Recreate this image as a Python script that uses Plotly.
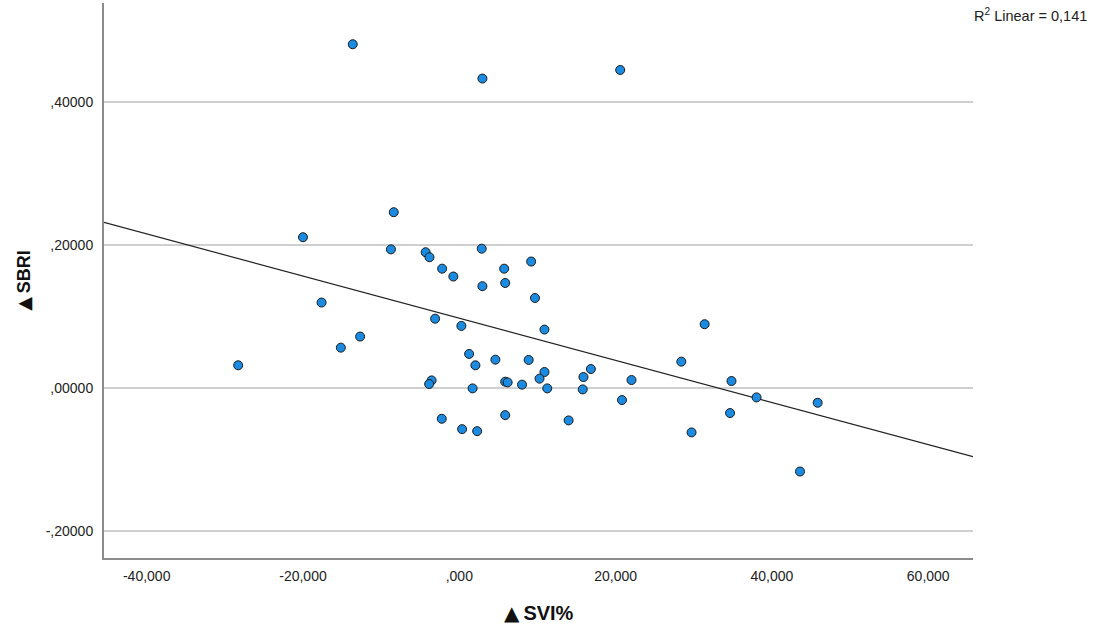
import numpy as np
import plotly.graph_objects as go

# ΔSVI% values (x) and ΔSBRI values (y)
svi = [
    -13632, 2960, -8386, -20000, -8744, 2870, -4305, -3811, -2197, -762,
    5740, 5874, 2960, 9193, 9686, -17622, 20588,
    -3094, 269, 10896, -12690, -15156, -28294, 1256, 2063, 4619, 8878,
    10896, 10268, -3542, -3856, 1704, 5874, 6188, 8026, 11255, -2242,
    5874, 359, 2287,
    31391, 28408, 16837, 15888, 15797, 22035, 20815, 13989, 34827, 34646,
    29719, 38036, 45855, 43595,
]
sbri = [
    0.481, 0.433, 0.246, 0.211, 0.194, 0.195, 0.190, 0.183, 0.167, 0.156,
    0.167, 0.147, 0.1425, 0.177, 0.126, 0.1196, 0.445,
    0.097, 0.0869, 0.0818, 0.072, 0.0565, 0.0318, 0.0477, 0.0318, 0.0397, 0.0393,
    0.0224, 0.0131, 0.0107, 0.0056, -0.0005, 0.0089, 0.0079, 0.0047, -0.0005, -0.043,
    -0.0379, -0.0575, -0.0603,
    0.0893, 0.0369, 0.0266, 0.0154, -0.0019, 0.0112, -0.0168, -0.0453, 0.0098, -0.035,
    -0.0621, -0.0131, -0.0206, -0.1168,
]

x_ticks = [-40000, -20000, 0, 20000, 40000, 60000]
x_tick_text = ["-40,000", "-20,000", ",000", "20,000", "40,000", "60,000"]
y_ticks = [-0.2, 0.0, 0.2, 0.4]
y_tick_text = ["-,20000", ",00000", ",20000", ",40000"]
x_range = [-45460, 65730]
y_range = [-0.2378, 0.5387]
r2_label = "R<sup>2</sup> Linear = 0,141"
x_title = "SVI%"
y_title = "SBRI"

# least-squares fit line over the full x range
slope, intercept = np.polyfit(svi, sbri, 1)
fit_x = np.array(x_range, dtype=float)
fit_y = slope * fit_x + intercept

FONT = "Liberation Sans, Arial, sans-serif"
TRI = '<span style="font-family:DejaVu Sans">▲\u2009</span>'

fig = go.Figure()
fig.add_trace(go.Scatter(
    x=fit_x, y=fit_y, mode="lines",
    line=dict(color="#222222", width=1.2),
    hoverinfo="skip", showlegend=False,
))
fig.add_trace(go.Scatter(
    x=svi, y=sbri, mode="markers",
    marker=dict(size=9, color="#1a8be0", line=dict(color="#1a1a1a", width=1)),
    showlegend=False,
))

fig.update_layout(
    width=1094, height=628,
    margin=dict(l=104, r=121, t=3, b=70),
    paper_bgcolor="white", plot_bgcolor="white",
    font=dict(family=FONT, size=14, color="#222222"),
    xaxis=dict(
        range=x_range, tickvals=x_ticks, ticktext=x_tick_text,
        showgrid=False, zeroline=False,
        showline=True, linecolor="#8c8c8c", linewidth=2,
        ticks="", ticklabelstandoff=4,
        tickfont=dict(family=FONT, size=14, color="#222222"),
    ),
    yaxis=dict(
        range=y_range, tickvals=y_ticks, ticktext=y_tick_text,
        showgrid=True, gridcolor="#cfcfcf", gridwidth=1.5,
        zeroline=False,
        showline=True, linecolor="#8c8c8c", linewidth=2,
        ticks="", ticklabelstandoff=6,
        tickfont=dict(family=FONT, size=14, color="#222222"),
    ),
    annotations=[
        dict(text="<b>" + TRI + x_title + "</b>", xref="paper", yref="paper",
             x=0.5, y=-0.0997, xanchor="center", yanchor="middle",
             showarrow=False, font=dict(family=FONT, size=20, color="#111111")),
        dict(text="<b>" + TRI + y_title + "</b>", xref="paper", yref="paper",
             x=-0.093, y=0.5, xanchor="center", yanchor="middle",
             textangle=-90, showarrow=False,
             font=dict(family=FONT, size=18, color="#111111")),
        dict(text=r2_label, xref="paper", yref="paper",
             x=1.134, y=0.979, xanchor="right", yanchor="middle",
             showarrow=False, font=dict(family=FONT, size=14.5, color="#222222")),
    ],
)

fig.write_html("out.html")
